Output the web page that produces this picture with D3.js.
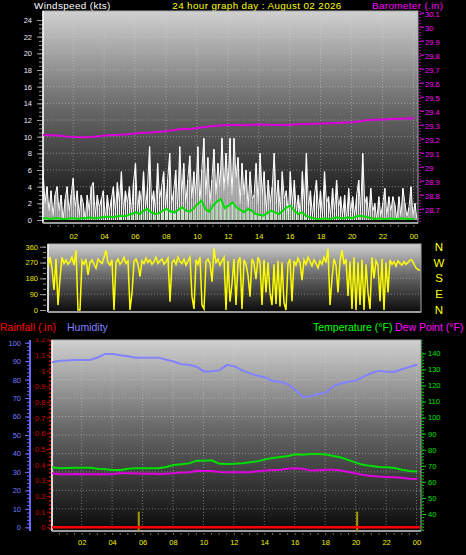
<!DOCTYPE html>
<html><head><meta charset="utf-8">
<script src="https://cdn.jsdelivr.net/npm/d3@7"></script>
<style>html,body{margin:0;padding:0;background:#000;overflow:hidden}svg{display:block}</style>
</head><body><svg id="c" width="466" height="555"></svg>
<script>
// ---------- DATA ----------
const startHour = 0.05;           // first sample (hours after midnight)
const endHour = 24.23;            // last sample
const fineStep = 0.13;            // gust / direction sampling step (h)
const avgStep = 0.25;             // average wind sampling step (h)
const halfStep = 0.5;             // barometer / temp / humidity step (h)

const hourTicks = [2,4,6,8,10,12,14,16,18,20,22,24];
const hourLabels = ["02","04","06","08","10","12","14","16","18","20","22","00"];

const windTicks = [0,2,4,6,8,10,12,14,16,18,20,22,24];
const baroTicks = [28.7,28.8,28.9,29,29.1,29.2,29.3,29.4,29.5,29.6,29.7,29.8,29.9,30,30.1];
const dirTicks = [0,90,180,270,360];
const compass = ["N","E","S","W","N"];
const humTicks = [0,10,20,30,40,50,60,70,80,90,100];
const rainTicks = [0,0.1,0.2,0.3,0.4,0.5,0.6,0.7,0.8,0.9,1,1.1,1.2];
const tempTicks = [40,50,60,70,80,90,100,110,120,130,140];

const windGust = [6,2,4,1,3.5,0.5,3,4,1,3, 0,2.5,4,1,3,5,1.5,3.5,0.5,3, 2,0,3,1,4,4.5,0.5,3,1.5,2.5,
 3.5,0,3,1,2.5,4,1,4.5,2,5.8, 1,3.5,2,4,0.5,4.5,6.8,1,3.5,2, 5.8,1.5,4,8.8,2,3.5,1,6.8,2.5,4,
 5.8,1.5,4.8,8,2,3.5,6,1.5,8.8,3, 6.8,2,4.8,7.7,2.5,5.8,3,8.8,2,6, 9.8,3,7.5,2,4.8,8.5,3,6.8,4,9.8,
 3.5,8,4,9.8,3,9.8,5,7.5,2,6.8, 3,6,1.5,5.8,2.5,3,6.8,2,8,3, 5.8,1,4.8,2,4,8,2,4.8,1,5.8,
 2.5,3.5,0.5,5.8,2,4.8,1,3,0.5,5.8, 2,8,1.5,3.5,0.5,3,4.8,1,3.5,0.5, 5.8,2,2.8,0.5,3.8,1,4.8,1.5,2.8,0.5,
 3,0,3.8,1,2.8,0.5,3,4.8,1,8, 2,2.8,0.5,3.8,1,2,0,2.8,0.5,2, 3.8,0.5,2.8,1,2.8,1.8,0,2.8,0.5,3.8,
 2,0.4,1.5,4,0.5,2,0];

const windAvg = [0.1,0.1,0,0.1,0.1,0,0,0.1,0.1,0, 0.1,0.1,0.2,0.1,0.1,0.2,0.2,0.3,0.2,0.3,
 0.4,0.3,0.5,0.6,0.8,0.6,1.0,1.2,0.8,0.6, 0.7,1.0,1.2,0.9,0.8,1.1,1.4,1.0,0.9,1.3,
 1.8,2.2,1.2,0.9,1.6,2.1,2.4,1.3,1.6,2.0, 1.4,1.1,0.8,1.2,1.0,0.6,0.5,0.4,0.7,1.0,
 0.8,0.6,1.0,1.4,1.6,1.0,0.6,0.8,0.4,0.2, 0.1,0,0,0.1,0,0.1,0.2,0.1,0.1,0.2,
 0.1,0.3,0.4,0.3,0.2,0.1,0,0.1,0,0, 0.1,0,0,0.1,0,0,0];

const barometer = [29.226,29.225,29.222,29.216,29.212,29.210,29.212,29.216,29.222,29.226,
 29.228,29.232,29.238,29.242,29.245,29.25,29.255,29.262,29.271,29.268,
 29.276,29.284,29.29,29.294,29.297,29.298,29.296,29.299,29.302,29.3,
 29.298,29.298,29.3,29.303,29.305,29.306,29.308,29.31,29.312,29.315,
 29.318,29.325,29.334,29.336,29.338,29.34,29.342,29.344,29.346];

const windDir = [250,300,240,114,290,28,180,300,265,285, 260,275,300,255,340,0,0,280,260,290,
 200,270,285,260,237,290,275,265,300,340, 270,255,285,0,270,290,260,275,300,265,
 280,0,97,275,290,260,190,280,265,295, 270,285,260,275,300,265,280,290,260,275,
 295,47,270,285,260,300,275,265,290,255, 280,300,76,6,285,260,300,28,6,275,
 290,265,161,350,270,290,255,280,300,0, 280,47,150,290,28,275,300,6,285,260,
 200,76,290,265,175,300,270,28,285,100, 270,100,28,260,35,280,20,270,40,0,
 265,290,50,280,255,295,270,170,285,260, 300,275,250,285,265,240,280,260,300,270,
 350,28,180,290,255,100,280,340,260,290, 80,275,6,300,0,270,28,285,0,260,
 100,6,300,180,280,255,50,290,0,270, 100,285,260,275,250,280,265,255,275,260,
 270,285,285,260,240,230,225];

const humidity = [89.4,90.2,90.4,90.6,90.6,90.6,92,93.9,93.9,93.2,
 92.6,91.9,91.9,91.9,91.9,90.8,89.8,88.3,88,87,
 84.3,84.5,85,88,87.2,85,83.4,82.1,81.3,79.3,
 78.8,77.4,74.4,70.5,71,72.2,73,76.5,78,78.8,
 79.6,81.8,83.6,84.8,84.2,84.1,85.6,86.8,88.2];

const temperature = [69.1,68.4,68.6,68.8,68.8,68.8,68.2,67.8,67.4,67.4,
 68.2,68.4,68.4,68.4,68.4,69.2,70.5,70.9,71.5,73.1,
 73.2,73.4,71.2,71.1,71.2,71.6,72.2,72.8,74,74.8,
 75.5,76.1,77.2,76.8,77.3,77.3,77,76.1,75.2,73.5,
 71.8,70.5,69.8,69.2,69.1,68.6,67.6,66.8,66.4];

const dewPoint = [65.3,64.7,64.8,64.9,64.8,64.8,64.7,64.8,64.9,65.3,
 65.3,65.2,65.1,65,64.9,65,65.3,65.9,65.8,66.9,
 66.7,66.8,66.1,66,66,66,66,66.6,67,67.4,
 67.6,68.1,68.4,68.2,67,67.2,67.5,67.6,67,66.2,
 65.2,64.2,63.7,63.3,63.1,62.9,62.5,61.9,61.8];

const rainTotal = [0, 0];                 // at start and end of the day
const rainBarHours = [5.75, 20.1];
const rainBarValues = [0.1, 0.1];

// ---------- SETUP ----------
const FONT = '"Liberation Sans", Arial, sans-serif';
const svg = d3.select("#c");
const defs = svg.append("defs");
function makeGrad(id){
  const g = defs.append("linearGradient").attr("id",id).attr("x1",0).attr("y1",0).attr("x2",0).attr("y2",1);
  [["0%","#d0d0d0"],["45%","#6a6a6a"],["100%","#0a0a0a"]].forEach(s=>g.append("stop").attr("offset",s[0]).attr("stop-color",s[1]));
}
makeGrad("bg");
defs.append("clipPath").attr("id","clipBot").append("rect").attr("x",0).attr("y",338).attr("width",466).attr("height",200);

const seq = (arr, step) => arr.map((v,i)=>({h:startHour+i*step, v}));

// panels
const P1 = {l:43, r:418, t:11, b:223};
const P2 = {l:48, r:421, t:244, b:312};
const P3 = {l:52, r:421, t:340, b:531};

const x1 = d3.scaleLinear().domain([startHour,endHour]).range([43,417]);
const x2 = d3.scaleLinear().domain([startHour,endHour]).range([48,420]);
const x3 = d3.scaleLinear().domain([startHour,endHour]).range([52,420]);

const yWind = d3.scaleLinear().domain([0,24]).range([220,20]);
const yBaro = d3.scaleLinear().domain([29,30]).range([166.7,26.7]);
const yDir = d3.scaleLinear().domain([0,360]).range([310,246.7]);
const yHum = d3.scaleLinear().domain([0,100]).range([527.3,342.7]);
const yRain = d3.scaleLinear().domain([0,1]).range([527.3,370.7]);
const yTemp = d3.scaleLinear().domain([40,140]).range([514,353.3]);

function panel(p){
  svg.append("rect").attr("x",p.l).attr("y",p.t).attr("width",p.r-p.l).attr("height",p.b-p.t)
    .attr("fill","url(#bg)").attr("stroke","#a8a8a8").attr("stroke-width",1);
  svg.append("line").attr("x1",p.l).attr("x2",p.l).attr("y1",p.t).attr("y2",p.b).attr("stroke","#ffffff").attr("stroke-width",1.5);
  svg.append("rect").attr("x",p.l).attr("y",p.b-1).attr("width",p.r-p.l).attr("height",2).attr("fill","#9c9c9c");
}
function vgrid(p, xs){
  svg.append("g").selectAll("line").data(hourTicks).join("line")
    .attr("x1",d=>xs(d)).attr("x2",d=>xs(d)).attr("y1",p.t+1).attr("y2",p.b-1)
    .attr("stroke","#d8d8d8").attr("stroke-opacity",0.45).attr("stroke-dasharray","1,2");
}
function hgrid(p, ys, vals){
  svg.append("g").selectAll("line").data(vals).join("line")
    .attr("x1",p.l+1).attr("x2",p.r-1).attr("y1",d=>ys(d)).attr("y2",d=>ys(d))
    .attr("stroke","#d8d8d8").attr("stroke-opacity",0.45).attr("stroke-dasharray","1,2");
}
function styleAxis(g, textColor, tickColor, size){
  g.attr("font-family",FONT).attr("font-size",size||7.5);
  g.select(".domain").remove();
  g.selectAll(".tick line").attr("stroke",tickColor);
  g.selectAll(".tick text").attr("fill",textColor);
  return g;
}

// ---------- HEADER ----------
const hdr = svg.append("g").attr("font-family",FONT).attr("font-size",9.8).attr("letter-spacing",0.4);
hdr.append("text").attr("x",34).attr("y",8.5).attr("fill","#ffffff").text("Windspeed (kts)");
hdr.append("text").attr("x",257).attr("y",8.5).attr("text-anchor","middle").attr("fill","#ffff00").text("24 hour graph day : August 02 2026");
hdr.append("text").attr("x",372).attr("y",8.5).attr("fill","#ff00ff").text("Barometer (.in)");

// ---------- TOP PANEL ----------
panel(P1);
vgrid(P1, x1);
hgrid(P1, yWind, [2,4,6,8,10,12,14,16,18,20,22,24]);

svg.append("g").attr("transform","translate(42,0)")
  .call(d3.axisLeft(yWind).tickValues(d3.range(0,24.01,0.5)).tickSize(3).tickFormat(""))
  .call(g=>styleAxis(g,"#fff","#8a8a8a"));
svg.append("g").attr("transform","translate(42,0)")
  .call(d3.axisLeft(yWind).tickValues(windTicks).tickSize(5).tickPadding(5).tickFormat(d3.format("d")))
  .call(g=>styleAxis(g,"#e6eaff","#9a9a9a"));

svg.append("line").attr("x1",420).attr("x2",420).attr("y1",11).attr("y2",223)
  .attr("stroke","#ff00ff").attr("stroke-dasharray","1,2");
svg.append("g").attr("transform","translate(420,0)")
  .call(d3.axisRight(yBaro).tickValues(baroTicks).tickSize(4).tickPadding(1).tickFormat(d=>String(+d.toFixed(1))))
  .call(g=>styleAxis(g,"#ff00ff","#ff00ff"))
  .call(g=>g.selectAll(".tick text").attr("y",1.3));

svg.append("g").attr("transform","translate(0,225)")
  .call(d3.axisBottom(x1).tickValues(d3.range(0.5,24.01,0.5)).tickSize(2).tickFormat(""))
  .call(g=>styleAxis(g,"#fff","#6a6a6a"));
svg.append("g").attr("transform","translate(0,224)")
  .call(d3.axisBottom(x1).tickValues(hourTicks).tickSize(0).tickPadding(9.4).tickFormat((d,i)=>hourLabels[i]))
  .call(g=>styleAxis(g,"#f2f200","#000"));

const gustData = seq(windGust, fineStep);
svg.append("g").selectAll("line").data(gustData).join("line")
  .attr("x1",d=>x1(d.h)).attr("x2",d=>x1(d.h)).attr("y1",yWind(0)).attr("y2",d=>yWind(d.v))
  .attr("stroke","#f4f4f4").attr("stroke-width",1.3);
svg.append("path").datum(gustData).attr("fill","none").attr("stroke","#ffffff").attr("stroke-width",1)
  .attr("d", d3.line().x(d=>x1(d.h)).y(d=>yWind(d.v)));

const avgData = seq(windAvg, avgStep);
svg.append("g").selectAll("line").data(avgData.filter(d=>d.v>0.3)).join("line")
  .attr("x1",d=>x1(d.h)).attr("x2",d=>x1(d.h)).attr("y1",yWind(0)).attr("y2",d=>yWind(d.v))
  .attr("stroke","#b8e6b8").attr("stroke-width",1.5);
svg.append("path").datum(avgData).attr("fill","none").attr("stroke","#00dd00").attr("stroke-width",2)
  .attr("d", d3.line().x(d=>x1(d.h)).y(d=>yWind(d.v)-1));

svg.append("path").datum(seq(barometer, halfStep)).attr("fill","none").attr("stroke","#dd00dd").attr("stroke-width",2)
  .attr("d", d3.line().x(d=>x1(d.h)).y(d=>yBaro(d.v)));

// ---------- MIDDLE PANEL ----------
panel(P2);
hgrid(P2, yDir, [90,180,270]);
svg.append("g").attr("transform","translate(46,0)")
  .call(d3.axisLeft(yDir).tickValues(d3.range(0,361,30)).tickSize(3).tickFormat(""))
  .call(g=>styleAxis(g,"#fff","#8a8a8a"));
svg.append("g").attr("transform","translate(46,0)")
  .call(d3.axisLeft(yDir).tickValues(dirTicks).tickSize(6).tickPadding(2).tickFormat(d3.format("d")))
  .call(g=>styleAxis(g,"#e4e400","#9a9a9a"));
svg.append("g").attr("font-family",FONT).attr("font-size",11.5).selectAll("text").data(dirTicks).join("text")
  .attr("x",439).attr("y",d=>yDir(d)).attr("dy","0.36em").attr("text-anchor","middle")
  .attr("fill","#ffff00").text((d,i)=>compass[i]);

svg.append("path").datum(seq(windDir, fineStep)).attr("fill","none").attr("stroke","#ffff00").attr("stroke-width",1.5)
  .attr("d", d3.line().x(d=>x2(d.h)).y(d=>yDir(d.v)));

// ---------- BOTTOM LEGEND ----------
const lg = svg.append("g").attr("font-family",FONT).attr("font-size",10.5);
lg.append("text").attr("x",0).attr("y",330.5).attr("fill","#ff0000").text("Rainfall (.in)");
lg.append("text").attr("x",67).attr("y",330.5).attr("fill","#8080ff").text("Humidity");
lg.append("text").attr("x",313).attr("y",330.5).attr("fill","#00ff00").text("Temperature (°F)");
lg.append("text").attr("x",395).attr("y",330.5).attr("fill","#ff00ff").text("Dew Point (°F)");

// ---------- BOTTOM PANEL ----------
panel(P3);
vgrid(P3, x3);
hgrid(P3, yHum, [10,20,30,40,50,60,70,80,90]);

// humidity axis
svg.append("line").attr("x1",30).attr("x2",30).attr("y1",340).attr("y2",531).attr("stroke","#6a6aff").attr("stroke-width",2);
svg.append("g").attr("transform","translate(30,0)")
  .call(d3.axisLeft(yHum).tickValues(d3.range(0,100.1,2)).tickSize(3).tickFormat(""))
  .call(g=>styleAxis(g,"#fff","#6a6aff"));
svg.append("g").attr("transform","translate(30,0)")
  .call(d3.axisLeft(yHum).tickValues(humTicks).tickSize(5).tickPadding(4).tickFormat(d3.format("d")))
  .call(g=>styleAxis(g,"#7878ff","#6a6aff"));

// rain axis
svg.append("line").attr("x1",50).attr("x2",50).attr("y1",340).attr("y2",531).attr("stroke","#d00000").attr("stroke-width",1.5).attr("stroke-dasharray","2,2");
svg.append("g").attr("clip-path","url(#clipBot)").append("g").attr("transform","translate(50,0)")
  .call(d3.axisLeft(yRain).tickValues(rainTicks).tickSize(3).tickPadding(1.5).tickFormat(d=>String(+d.toFixed(1))))
  .call(g=>styleAxis(g,"#d40000","#d00000"));

// temperature axis
svg.append("line").attr("x1",422).attr("x2",422).attr("y1",340).attr("y2",531).attr("stroke","#00c000").attr("stroke-dasharray","1,2");
svg.append("g").attr("transform","translate(422,0)")
  .call(d3.axisRight(yTemp).tickValues(d3.range(30,141,2)).tickSize(2).tickFormat(""))
  .call(g=>styleAxis(g,"#fff","#00c000"));
svg.append("g").attr("transform","translate(422,0)")
  .call(d3.axisRight(yTemp).tickValues(tempTicks).tickSize(4).tickPadding(2).tickFormat(d3.format("d")))
  .call(g=>styleAxis(g,"#00e000","#00d000"));

// bottom x axis
svg.append("g").attr("transform","translate(0,533)")
  .call(d3.axisBottom(x3).tickValues(d3.range(0.5,24.01,0.5)).tickSize(2).tickFormat(""))
  .call(g=>styleAxis(g,"#fff","#6a6a6a"));
svg.append("g").attr("transform","translate(0,531)")
  .call(d3.axisBottom(x3).tickValues(hourTicks).tickSize(0).tickPadding(8.4).tickFormat((d,i)=>hourLabels[i]))
  .call(g=>styleAxis(g,"#f2f200","#000"));

// series
svg.append("g").selectAll("line").data(rainBarHours).join("line")
  .attr("x1",d=>x3(d)).attr("x2",d=>x3(d)).attr("y1",P3.b).attr("y2",(d,i)=>yRain(rainBarValues[i]))
  .attr("stroke","#a89800").attr("stroke-width",2);
svg.append("path").datum(seq(humidity, halfStep)).attr("fill","none").attr("stroke","#8282ff").attr("stroke-width",2)
  .attr("d", d3.line().x(d=>x3(d.h)).y(d=>yHum(d.v)));
svg.append("path").datum(seq(temperature, halfStep)).attr("fill","none").attr("stroke","#00e000").attr("stroke-width",2)
  .attr("d", d3.line().x(d=>x3(d.h)).y(d=>yTemp(d.v)));
svg.append("path").datum(seq(dewPoint, halfStep)).attr("fill","none").attr("stroke","#e000e0").attr("stroke-width",2)
  .attr("d", d3.line().x(d=>x3(d.h)).y(d=>yTemp(d.v)));
svg.append("path").datum([{h:startHour,v:rainTotal[0]},{h:endHour,v:rainTotal[1]}]).attr("fill","none").attr("stroke","#ff0000").attr("stroke-width",2.5)
  .attr("d", d3.line().x(d=>x3(d.h)).y(d=>yRain(d.v)));
</script>
</body></html>
